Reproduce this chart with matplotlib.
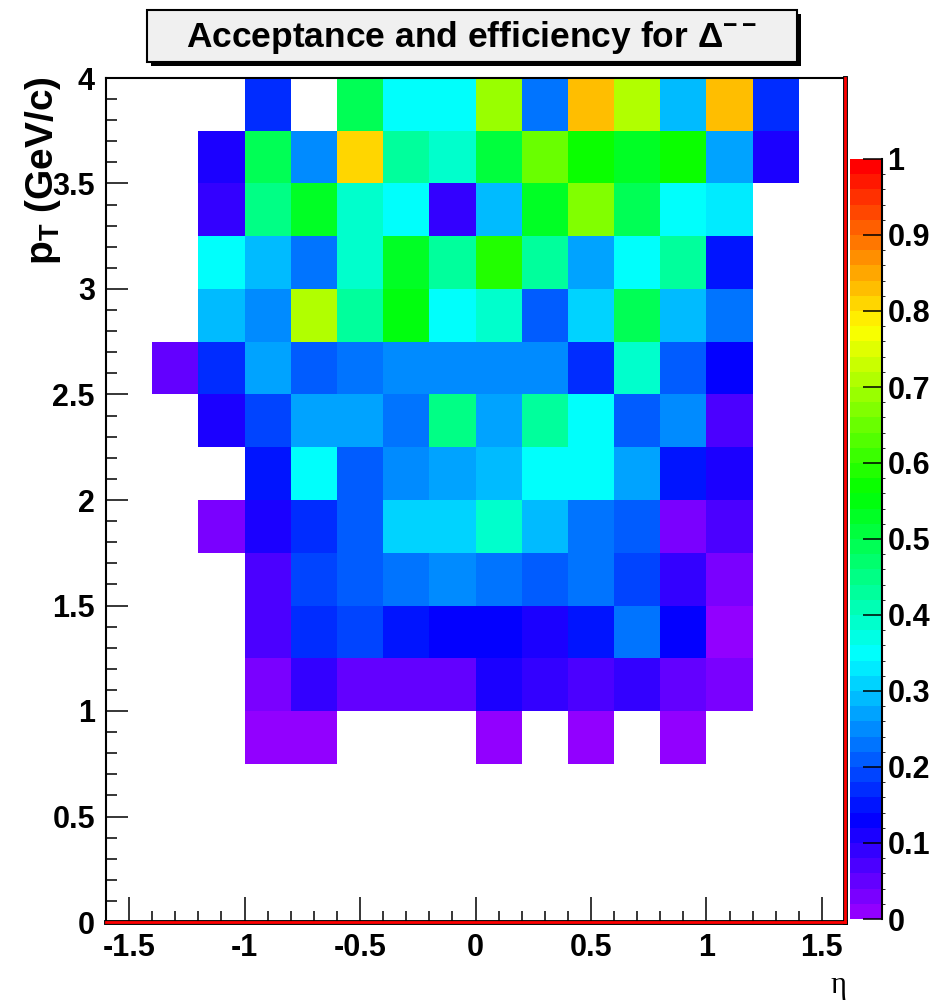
import colorsys

import numpy as np
import matplotlib
matplotlib.use('Agg')
from matplotlib import pyplot as plt
from matplotlib.colors import ListedColormap, BoundaryNorm
from matplotlib.lines import Line2D
from matplotlib.patches import Rectangle

plt.rcParams['font.family'] = ['Liberation Sans', 'DejaVu Sans']
plt.rcParams['font.weight'] = 'bold'
plt.rcParams['mathtext.fontset'] = 'custom'
plt.rcParams['mathtext.rm'] = 'Liberation Sans:bold'
plt.rcParams['mathtext.it'] = 'Liberation Sans:bold'
plt.rcParams['mathtext.bf'] = 'Liberation Sans:bold'

# bin edges (eta, pT)
eta_edges = np.round(np.arange(-1.6, 1.61, 0.2), 2)
pt_edges = np.round(np.arange(0.0, 4.01, 0.25), 2)

n = np.nan
# efficiency per cell, one list per pT row, top row (3.75-4.0) first
row_375 = [n, n, n, 0.16, n, 0.48, 0.35, 0.35, 0.68, 0.23, 0.83, 0.71, 0.29, 0.83, 0.16, n]
row_350 = [n, n, 0.10, 0.48, 0.25, 0.81, 0.43, 0.39, 0.50, 0.65, 0.56, 0.52, 0.57, 0.27, 0.10, n]
row_325 = [n, n, 0.09, 0.45, 0.53, 0.38, 0.35, 0.09, 0.29, 0.52, 0.67, 0.48, 0.35, 0.32, n, n]
row_300 = [n, n, 0.35, 0.29, 0.22, 0.38, 0.53, 0.43, 0.59, 0.43, 0.27, 0.35, 0.42, 0.15, n, n]
row_275 = [n, n, 0.29, 0.25, 0.71, 0.42, 0.55, 0.35, 0.38, 0.20, 0.31, 0.48, 0.29, 0.23, n, n]
row_250 = [n, 0.05, 0.16, 0.27, 0.20, 0.23, 0.25, 0.25, 0.25, 0.25, 0.16, 0.39, 0.20, 0.13, n, n]
row_225 = [n, n, 0.10, 0.19, 0.27, 0.27, 0.23, 0.45, 0.26, 0.42, 0.35, 0.20, 0.25, 0.06, n, n]
row_200 = [n, n, n, 0.15, 0.35, 0.20, 0.25, 0.26, 0.29, 0.35, 0.35, 0.27, 0.15, 0.10, n, n]
row_175 = [n, n, 0.03, 0.11, 0.16, 0.20, 0.31, 0.31, 0.38, 0.29, 0.23, 0.20, 0.03, 0.06, n, n]
row_150 = [n, n, n, 0.06, 0.19, 0.20, 0.23, 0.25, 0.23, 0.20, 0.23, 0.18, 0.09, 0.02, n, n]
row_125 = [n, n, n, 0.07, 0.16, 0.19, 0.15, 0.13, 0.13, 0.11, 0.15, 0.22, 0.13, 0.01, n, n]
row_100 = [n, n, n, 0.03, 0.09, 0.05, 0.05, 0.05, 0.10, 0.08, 0.06, 0.08, 0.04, 0.02, n, n]
row_075 = [n, n, n, 0.01, 0.01, n, n, n, 0.01, n, 0.01, n, 0.01, n, n, n]
empty = [n] * 16

rows_top_down = [row_375, row_350, row_325, row_300, row_275, row_250, row_225, row_200,
                 row_175, row_150, row_125, row_100, row_075, empty, empty, empty]
eff = np.ma.masked_invalid(np.array(rows_top_down[::-1]))

x_ticks = [-1.5, -1, -0.5, 0, 0.5, 1, 1.5]
y_ticks = [0, 0.5, 1, 1.5, 2, 2.5, 3, 3.5, 4]
z_ticks = [0, 0.1, 0.2, 0.3, 0.4, 0.5, 0.6, 0.7, 0.8, 0.9, 1]

# ROOT "pretty" palette: 49 hues violet->red plus kRed
pal = [colorsys.hls_to_rgb((280 - (i + 1) * 5.6) / 360., 0.5, 1.0) for i in range(49)]
pal.append((1.0, 0.0, 0.0))
cmap = ListedColormap(pal)
norm = BoundaryNorm(np.linspace(0, 1, 51), 50)

W, H = 952, 1005
fig = plt.figure(figsize=(W / 100, H / 100), dpi=100)
ax = fig.add_axes([106 / W, 1 - 922 / H, (845 - 106) / W, (922 - 78) / H])
mesh = ax.pcolormesh(eta_edges, pt_edges, eff, cmap=cmap, norm=norm)

ax.set_xlim(-1.6, 1.6)
ax.set_ylim(0, 4)
ax.set_xticks(x_ticks)
ax.set_xticklabels([f'{v:g}' for v in x_ticks])
ax.set_yticks(y_ticks)
ax.set_yticklabels([f'{v:g}' for v in y_ticks])
ax.set_xticks(np.round(np.arange(-1.6, 1.61, 0.1), 2), minor=True)
ax.set_yticks(np.round(np.arange(0, 4.01, 0.1), 2), minor=True)
ax.tick_params(axis='x', which='major', direction='in', length=18, width=1.1, labelsize=22, pad=8)
ax.tick_params(axis='x', which='minor', direction='in', length=8, width=1.1)
ax.tick_params(axis='y', which='major', direction='in', length=16, width=1.1, labelsize=22, pad=8)
ax.tick_params(axis='y', which='minor', direction='in', length=8, width=1.1)
for side in ['left', 'top']:
    ax.spines[side].set_linewidth(1.5)
for side in ['bottom', 'right']:
    ax.spines[side].set_linewidth(3.5)
    ax.spines[side].set_color('black')
ax.add_line(Line2D([0, 1], [0, 0], transform=ax.transAxes, color='red', lw=2, clip_on=False, zorder=5))
ax.add_line(Line2D([1, 1], [0, 1], transform=ax.transAxes, color='red', lw=2, clip_on=False, zorder=5))

# colour scale
cax = fig.add_axes([850 / W, 1 - 919 / H, 32 / W, (919 - 159) / H])
cb = fig.colorbar(mesh, cax=cax)
cb.outline.set_visible(False)
cb.set_ticks(z_ticks)
cb.set_ticklabels([f'{v:g}' for v in z_ticks])
cax.tick_params(direction='in', length=14, width=1.1, labelsize=22, pad=4)
cax.add_line(Line2D([1, 1], [0, 1], transform=cax.transAxes, color='black', lw=1.5, clip_on=False))

# title box with shadow
shadow = Rectangle((151 / W, 1 - 66 / H), 650 / W, 52 / H, transform=fig.transFigure,
                   facecolor='black', edgecolor='none')
box = Rectangle((147 / W, 1 - 62 / H), 650 / W, 52 / H, transform=fig.transFigure,
                facecolor='#f0f0f0', edgecolor='black', lw=1.5)
fig.patches.extend([shadow, box])
fig.text(472 / W, 1 - 37 / H, 'Acceptance and efficiency for Δ$^{--}$', fontsize=25.5,
         ha='center', va='center', fontweight='bold')

fig.text(43 / W, 1 - 76 / H, 'p$_{T}$ (GeV/c)', fontsize=28, rotation=90,
         ha='center', va='top', fontweight='bold')
fig.text(838 / W, 1 - 985 / H, 'η', fontsize=22, ha='center', va='center',
         family=['Liberation Serif', 'DejaVu Serif'], fontweight='normal')

fig.savefig('out.png', dpi=100)
